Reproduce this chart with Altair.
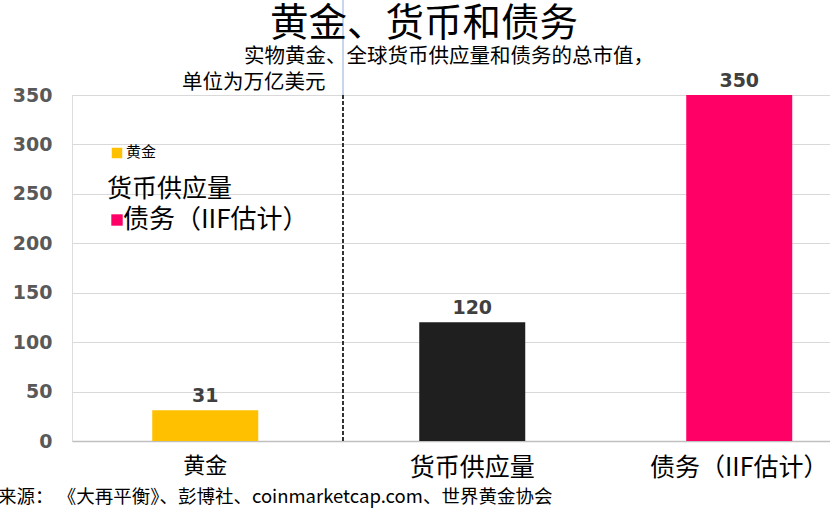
import altair as alt
import pandas as pd

categories = ["黄金", "货币供应量", "债务（IIF估计）"]
values = [31, 120, 350]
colors = ["#FFC000", "#1F1F1F", "#FF0066"]
y_ticks = [0, 50, 100, 150, 200, 250, 300, 350]

title_text = "黄金、货币和债务"
subtitle_1 = "实物黄金、全球货币供应量和债务的总市值，"
subtitle_2 = "单位为万亿美元"
legend_labels = ["黄金", "货币供应量", "债务（IIF估计）"]
source_text = "来源： 《大再平衡》、彭博社、coinmarketcap.com、世界黄金协会"

CJK = "Noto Sans CJK SC"
NUM = "DejaVu Sans"

df = pd.DataFrame({"cat": categories, "val": values, "color": colors})

xscale = alt.Scale(domain=categories, paddingInner=0.603, paddingOuter=0.221, align=0.68)
yscale = alt.Scale(domain=[0, 350], nice=False)

base = alt.Chart(df)

bars = base.mark_bar().encode(
    x=alt.X("cat:N", scale=xscale, sort=categories, title=None,
            axis=alt.Axis(labelAngle=0, labelFont=CJK,
                          labelFontSize={"condition": {"test": "datum.value === '黄金'", "value": 22}, "value": 25},
                          labelColor="#000000", labelPadding=14, ticks=False,
                          domainColor="#bfbfbf", domainWidth=1.5)),
    y=alt.Y("val:Q", scale=yscale, title=None,
            axis=alt.Axis(values=y_ticks, labelFont=NUM, labelFontSize=19, labelFontWeight="bold",
                          labelColor="#595959", labelPadding=20, ticks=False, domain=False,
                          gridColor="#d9d9d9", gridWidth=1)),
    color=alt.Color("color:N", scale=None),
)

bar_labels = base.mark_text(font=NUM, fontSize=19, fontWeight="bold", color="#404040",
                            baseline="bottom", dy=-4).encode(
    x=alt.X("cat:N", scale=xscale, sort=categories),
    y=alt.Y("val:Q", scale=yscale),
    text=alt.Text("val:Q"),
)

one = pd.DataFrame({"k": [0]})
dummy = alt.Chart(one)

divider = dummy.mark_rule(color="#333333", strokeWidth=2, strokeDash=[4, 2]).encode(
    x=alt.value(271), y=alt.value(0), y2=alt.value(346))
blue_line = dummy.mark_rule(color="#b4c7e7", strokeWidth=1.5).encode(
    x=alt.value(271), y=alt.value(-95), y2=alt.value(0))

title = dummy.mark_text(text=title_text, font=CJK, fontSize=38.5, color="#000000",
                        align="center", baseline="middle").encode(
    x=alt.value(352), y=alt.value(-71))
sub1 = dummy.mark_text(text=subtitle_1, font=CJK, fontSize=20.5, color="#000000",
                       align="center", baseline="middle").encode(
    x=alt.value(377), y=alt.value(-38))
sub2 = dummy.mark_text(text=subtitle_2, font=CJK, fontSize=20.5, color="#000000",
                       align="left", baseline="middle").encode(
    x=alt.value(110), y=alt.value(-12))

leg_sq1 = dummy.mark_square(size=110, color="#FFC000", opacity=1).encode(
    x=alt.value(45), y=alt.value(58))
leg_t1 = dummy.mark_text(text=legend_labels[0], font=CJK, fontSize=15, color="#000000",
                         align="left", baseline="middle").encode(
    x=alt.value(54), y=alt.value(57))
leg_t2 = dummy.mark_text(text=legend_labels[1], font=CJK, fontSize=25, color="#000000",
                         align="left", baseline="middle").encode(
    x=alt.value(35), y=alt.value(94))
leg_sq3 = dummy.mark_square(size=130, color="#FF0066", opacity=1).encode(
    x=alt.value(45), y=alt.value(125))
leg_t3 = dummy.mark_text(text=legend_labels[2], font=CJK, fontSize=26, color="#000000",
                         align="left", baseline="middle").encode(
    x=alt.value(51), y=alt.value(125))

source = dummy.mark_text(text=source_text, font=CJK, fontSize=18.5, color="#000000",
                         align="left", baseline="middle").encode(
    x=alt.value(-74), y=alt.value(56 + 346))

chart = alt.layer(
    bars, bar_labels, divider, blue_line, title, sub1, sub2,
    leg_sq1, leg_t1, leg_t2, leg_sq3, leg_t3, source
).properties(
    width=758, height=346,
    padding={"left": 72, "top": 95, "right": 0, "bottom": 71},
    autosize="none",
).configure_view(stroke=None).configure(background="#ffffff")

chart.save("out.html", embed_options={"renderer": "svg", "actions": False})
